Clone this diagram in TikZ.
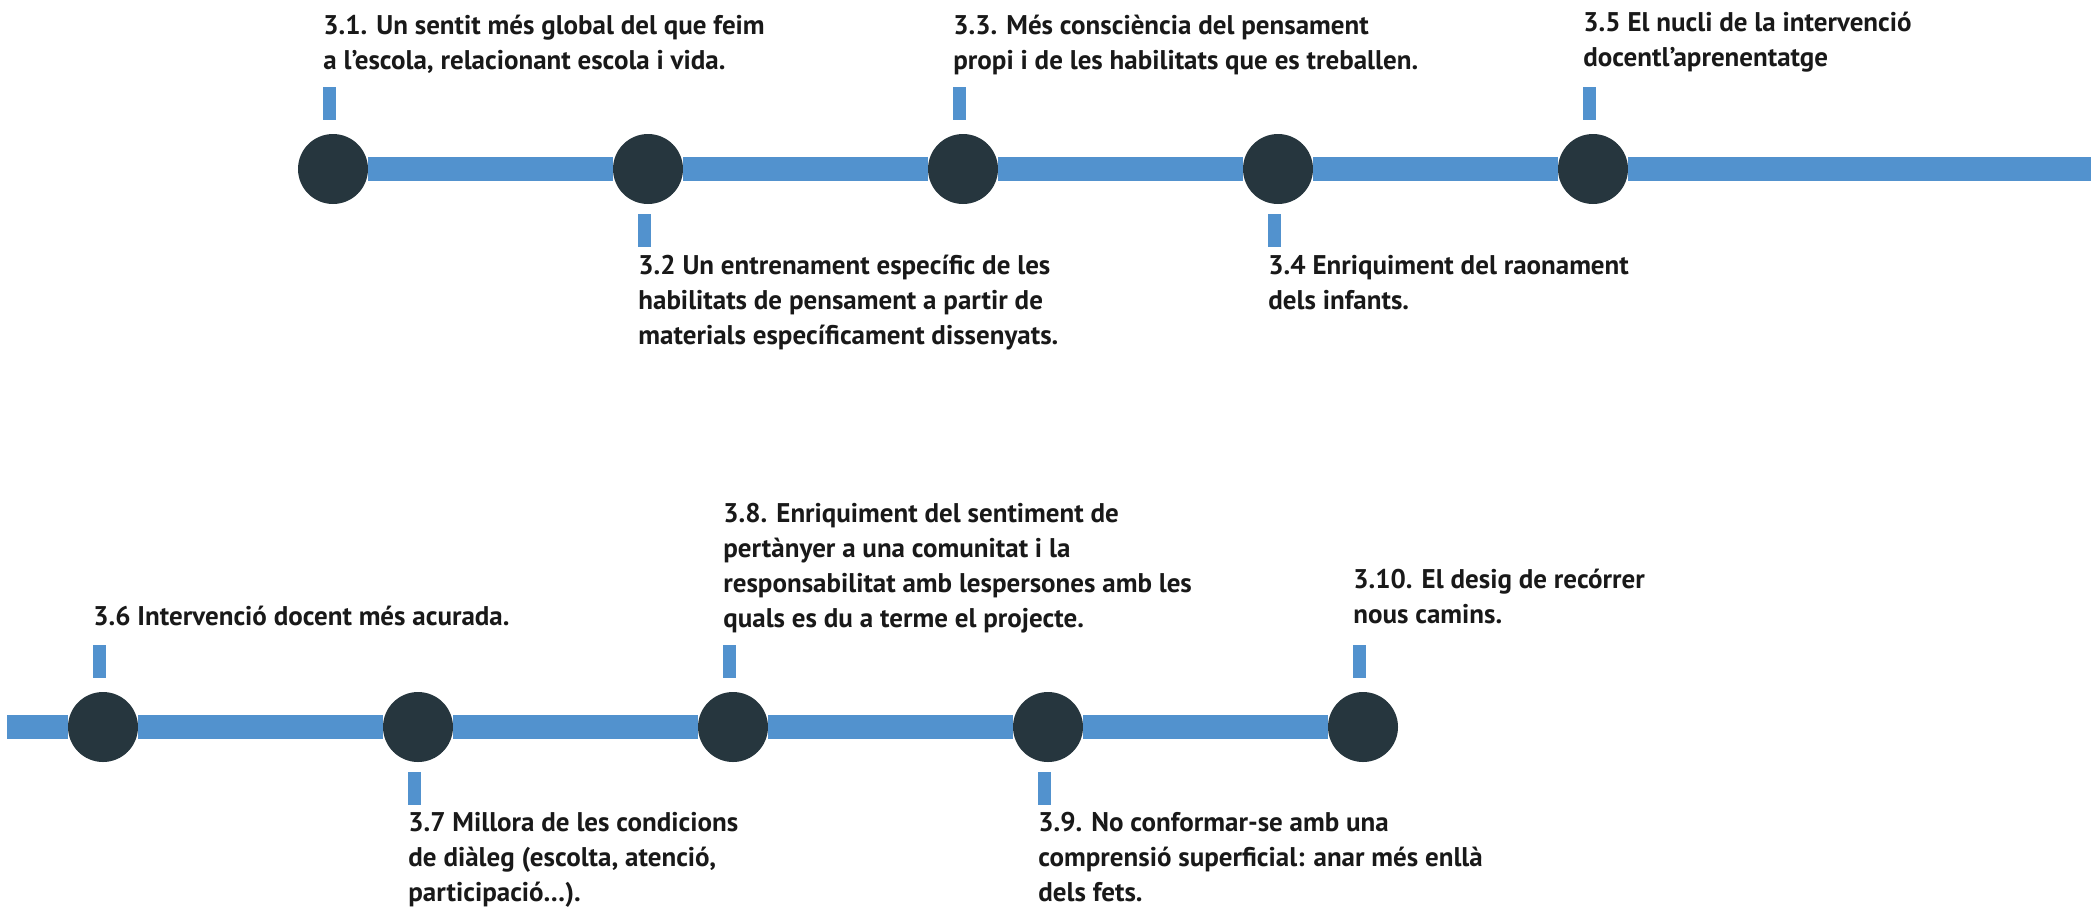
\documentclass[tikz,border=0pt]{standalone}
\usepackage{fontspec}
\setmainfont{PT Sans}
\definecolor{barblue}{HTML}{5292CE}
\definecolor{dotgray}{HTML}{26363E}
\newcommand{\gap}{315}

\begin{document}
\begin{tikzpicture}[x=0.5pt, y=-0.5pt,
    dot/.style={circle, fill=dotgray, minimum size=35pt, inner sep=0pt},
    bar/.style={draw=barblue, line width=12pt},
    tick/.style={draw=barblue, line width=6.5pt},
    txt/.style={anchor=base west, align=left, inner sep=0pt, text=black!90,
        font={\bfseries\fontsize{13.5pt}{17.35pt}\selectfont}}]
    \useasboundingbox (0,0) rectangle (2091,906);

    % First row
    \node[dot] (c1) at (18+1*\gap,169) {};
    \node[dot] (c2) at (18+2*\gap,169) {};
    \node[dot] (c3) at (18+3*\gap,169) {};
    \node[dot] (c4) at (18+4*\gap,169) {};
    \node[dot] (c5) at (18+5*\gap,169) {};
    \coordinate (e1) at (2091,169);

    \draw[bar] (c1) -- (c2);
    \draw[bar] (c2) -- (c3);
    \draw[bar] (c3) -- (c4);
    \draw[bar] (c4) -- (c5);
    \draw[bar] (c5) -- (e1);

    \draw[tick] ([xshift=-2pt, yshift=7pt]c1.north) -- ++(0,-33);
    \draw[tick] ([xshift=-2pt, yshift=-5pt]c2.south) -- ++(0,33);
    \draw[tick] ([xshift=-2pt, yshift=7pt]c3.north) -- ++(0,-33);
    \draw[tick] ([xshift=-2pt, yshift=-5pt]c4.south) -- ++(0,33);
    \draw[tick] ([xshift=-2pt, yshift=7pt]c5.north) -- ++(0,-33);

    % base anchor sits on the last line
    \node[txt] (t1) at (8+1*\gap,69) {3.1. Un sentit més global del que feim\\a l’escola, relacionant escola i vida.};
    \node[txt] (t2) at (8+2*\gap,344) {3.2 Un entrenament específic de les\\habilitats de pensament a partir de\\materials específicament dissenyats.};
    \node[txt] (t3) at (8+3*\gap,69) {3.3. Més consciència del pensament\\propi i de les habilitats que es treballen.};
    \node[txt] (t4) at (8+4*\gap,309) {3.4 Enriquiment del raonament\\dels infants.};
    \node[txt] (t5) at (8+5*\gap,66) {3.5 El nucli de la intervenció\\docentl’aprenentatge};

    % Second row
    \node[dot] (c6) at (-212+1*\gap,727) {};
    \node[dot] (c7) at (-212+2*\gap,727) {};
    \node[dot] (c8) at (-212+3*\gap,727) {};
    \node[dot] (c9) at (-212+4*\gap,727) {};
    \node[dot] (c10) at (-212+5*\gap,727) {};
    \coordinate (s2) at (7,727);

    \draw[bar] (s2) -- (c6);
    \draw[bar] (c6) -- (c7);
    \draw[bar] (c7) -- (c8);
    \draw[bar] (c8) -- (c9);
    \draw[bar] (c9) -- (c10);

    \draw[tick] ([xshift=-2pt, yshift=7pt]c6.north) -- ++(0,-33);
    \draw[tick] ([xshift=-2pt, yshift=-5pt]c7.south) -- ++(0,33);
    \draw[tick] ([xshift=-2pt, yshift=7pt]c8.north) -- ++(0,-33);
    \draw[tick] ([xshift=-2pt, yshift=-5pt]c9.south) -- ++(0,33);
    \draw[tick] ([xshift=-2pt, yshift=7pt]c10.north) -- ++(0,-33);

    \node[txt] (t6) at (-222+1*\gap,625) {3.6 Intervenció docent més acurada.};
    \node[txt] (t7) at (-222+2*\gap,901) {3.7 Millora de les condicions\\de diàleg (escolta, atenció,\\participació…).};
    \node[txt] (t8) at (-222+3*\gap,627) {3.8. Enriquiment del sentiment de\\pertànyer a una comunitat i la\\responsabilitat amb lespersones amb les\\quals es du a terme el projecte.};
    \node[txt] (t9) at (-222+4*\gap,901) {3.9. No conformar-se amb una\\comprensió superficial: anar més enllà\\dels fets.};
    \node[txt] (t10) at (-222+5*\gap,623) {3.10. El desig de recórrer\\nous camins.};

\end{tikzpicture}
\end{document}
